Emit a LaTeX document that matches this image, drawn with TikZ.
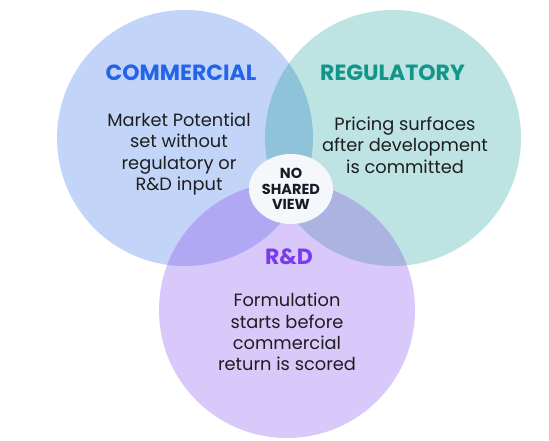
\documentclass[tikz,border=0pt]{standalone}
\usepackage{fontspec}
\setmainfont{Poppins}
\usetikzlibrary{shapes.geometric}
\definecolor{comfill}{HTML}{C2D5F9}
\definecolor{regfill}{HTML}{BDE3E2}
\definecolor{rdfill}{HTML}{D9C8FA}
\definecolor{crfill}{HTML}{8FC3D9}
\definecolor{cdfill}{HTML}{B0A8F3}
\definecolor{rdrfill}{HTML}{ABB3E1}
\definecolor{allfill}{HTML}{9AA8DC}
\definecolor{centerfill}{HTML}{F5F7FB}
\definecolor{comtitle}{HTML}{2563EB}
\definecolor{regtitle}{HTML}{12968A}
\definecolor{rdtitle}{HTML}{7C3AED}
\definecolor{bodytext}{HTML}{1E1E1E}
\definecolor{centertext}{HTML}{1A1A26}
\tikzset{
  titletext/.style={font=\fontsize{22}{26}\bfseries\selectfont, inner sep=0pt},
  bodystyle/.style={font=\fontsize{17.8}{21.3}\selectfont, text=bodytext, align=center, inner sep=0pt},
  centerbox/.style={ellipse, fill=centerfill, minimum width=84pt, minimum height=70pt, inner sep=0pt,
    font=\fontsize{14.5}{15.5}\bfseries\selectfont, text=centertext, align=center},
}
\begin{document}
\begin{tikzpicture}[x=1pt,y=-1pt]
\useasboundingbox (0,0) rectangle (549,441);
\def\circC{(185,138) circle[radius=128]}
\def\circR{(393,138) circle[radius=128]}
\def\circD{(287,310) circle[radius=128]}
\fill[comfill] \circC;
\fill[regfill] \circR;
\fill[rdfill] \circD;
\begin{scope}\clip \circC; \fill[crfill] \circR; \end{scope}
\begin{scope}\clip \circC; \fill[cdfill] \circD; \end{scope}
\begin{scope}\clip \circR; \fill[rdrfill] \circD; \end{scope}
\begin{scope}\clip \circC; \clip \circR; \fill[allfill] \circD; \end{scope}
\node[titletext, text=comtitle] (comt) at (181,73) {COMMERCIAL};
\node[titletext, text=regtitle] (regt) at (392.5,73) {REGULATORY};
\node[titletext, text=rdtitle] (rdt) at (289,257) {R\&D};
\node[bodystyle] (comb) at (179,154) {Market Potential\\set without\\regulatory or\\R\&D input};
\node[bodystyle] (regb) at (405,145) {Pricing surfaces\\after development\\is committed};
\node[bodystyle] (rdb) at (287,332) {Formulation\\starts before\\commercial\\return is scored};
\node[centerbox] (nsv) at (291,189) {NO\\SHARED\\VIEW};
\end{tikzpicture}
\end{document}
